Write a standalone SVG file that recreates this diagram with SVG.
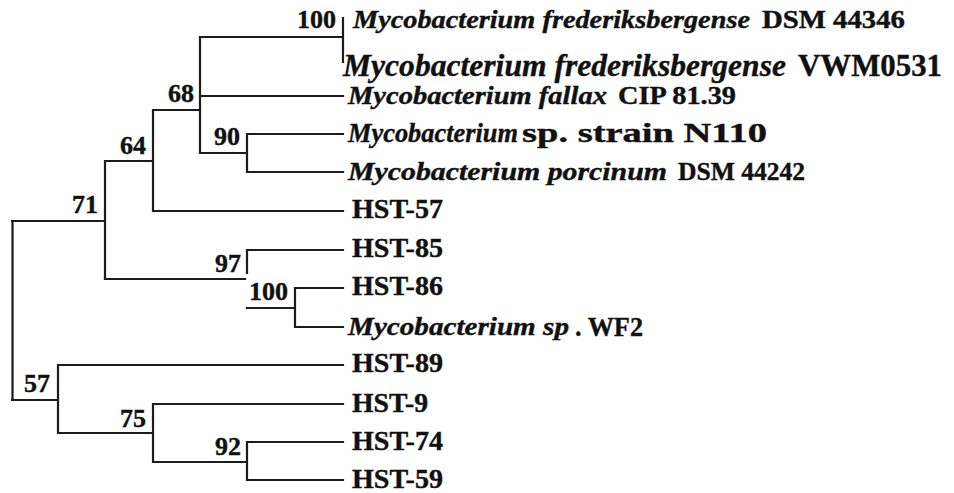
<svg xmlns="http://www.w3.org/2000/svg" width="954" height="493" viewBox="0 0 954 493">
<style>
.e{stroke:#1c1c1c;stroke-width:2.2;fill:none;stroke-linecap:square}
.t{font-family:"Liberation Serif","Times New Roman",serif;font-weight:bold;fill:#111;stroke:#111;stroke-width:0.4}
.i{font-style:italic}
.h{font-size:27px}
.s24{font-size:24px}
.s25{font-size:25px}
.s28{font-size:28px}
.s31{font-size:31px}
.b{font-family:"Liberation Serif","Times New Roman",serif;font-weight:bold;fill:#111;stroke:#111;stroke-width:0.4;font-size:26px;text-anchor:end}
</style>
<rect width="954" height="493" fill="#fff"/>
<g id="connectors">
<path class="e" d="M12.5 221V400M12 221H105M105 161V279M105 161H153M153 110V211M153 110H200M153 211H343M200 37V153M200 37H343M343 18V62M200 96H343M200 153H247M247 134V172M247 134H343M247 172H343"/>
<path class="e" d="M105 279H245M247 250V273M247 250H343M247 308H295M295 288V327M295 288H343M295 327H343"/>
<path class="e" d="M12 400H58M58 365V433M58 365H343M58 433H153M153 404V462M153 404H343M153 462H247M247 442V480M247 442H343M247 480H343"/>
</g>
<g id="n-100a"><text class="b" x="336" y="28">100</text></g>
<g id="n-68"><text class="b" x="194" y="102">68</text></g>
<g id="n-90"><text class="b" x="240" y="145">90</text></g>
<g id="n-64"><text class="b" x="146" y="154">64</text></g>
<g id="n-71"><text class="b" x="98" y="213">71</text></g>
<g id="n-97"><text class="b" x="241" y="272">97</text></g>
<g id="n-100b"><text class="b" x="288" y="300">100</text></g>
<g id="n-57"><text class="b" x="50" y="392">57</text></g>
<g id="n-75"><text class="b" x="146" y="427">75</text></g>
<g id="n-92"><text class="b" x="241" y="455">92</text></g>
<g id="leaf-dsm44346"><text class="t i s25" x="353" y="28" textLength="397" lengthAdjust="spacingAndGlyphs">Mycobacterium frederiksbergense</text><text class="t s25" x="762" y="28" textLength="143" lengthAdjust="spacingAndGlyphs">DSM 44346</text></g>
<g id="leaf-vwm0531"><text class="t i s31" x="343" y="76" textLength="443" lengthAdjust="spacingAndGlyphs">Mycobacterium frederiksbergense</text><text class="t s31" x="798" y="76" textLength="144" lengthAdjust="spacingAndGlyphs">VWM0531</text></g>
<g id="leaf-fallax"><text class="t i s25" x="348" y="104" textLength="259" lengthAdjust="spacingAndGlyphs">Mycobacterium fallax</text><text class="t s25" x="618" y="104" textLength="118" lengthAdjust="spacingAndGlyphs">CIP 81.39</text></g>
<g id="leaf-n110"><text class="t i s28" x="348" y="142" textLength="170" lengthAdjust="spacingAndGlyphs">Mycobacterium</text><text class="t s28" x="522" y="142" textLength="245" lengthAdjust="spacingAndGlyphs">sp. strain N110</text></g>
<g id="leaf-porcinum"><text class="t i s25" x="348" y="180" textLength="319" lengthAdjust="spacingAndGlyphs">Mycobacterium porcinum</text><text class="t s25" x="678" y="180" textLength="127" lengthAdjust="spacingAndGlyphs">DSM 44242</text></g>
<g id="leaf-hst57"><text class="t h" x="352" y="218" textLength="91" lengthAdjust="spacingAndGlyphs">HST-57</text></g>
<g id="leaf-hst85"><text class="t h" x="352" y="257" textLength="91" lengthAdjust="spacingAndGlyphs">HST-85</text></g>
<g id="leaf-hst86"><text class="t h" x="352" y="295" textLength="91" lengthAdjust="spacingAndGlyphs">HST-86</text></g>
<g id="leaf-wf2"><text class="t i s25" x="348" y="335" textLength="221" lengthAdjust="spacingAndGlyphs">Mycobacterium sp</text><text class="t s28" x="575" y="336" textLength="68" lengthAdjust="spacingAndGlyphs">. WF2</text></g>
<g id="leaf-hst89"><text class="t h" x="352" y="372" textLength="91" lengthAdjust="spacingAndGlyphs">HST-89</text></g>
<g id="leaf-hst9"><text class="t h" x="352" y="412" textLength="76" lengthAdjust="spacingAndGlyphs">HST-9</text></g>
<g id="leaf-hst74"><text class="t h" x="352" y="450" textLength="91" lengthAdjust="spacingAndGlyphs">HST-74</text></g>
<g id="leaf-hst59"><text class="t h" x="352" y="488" textLength="91" lengthAdjust="spacingAndGlyphs">HST-59</text></g>
</svg>
